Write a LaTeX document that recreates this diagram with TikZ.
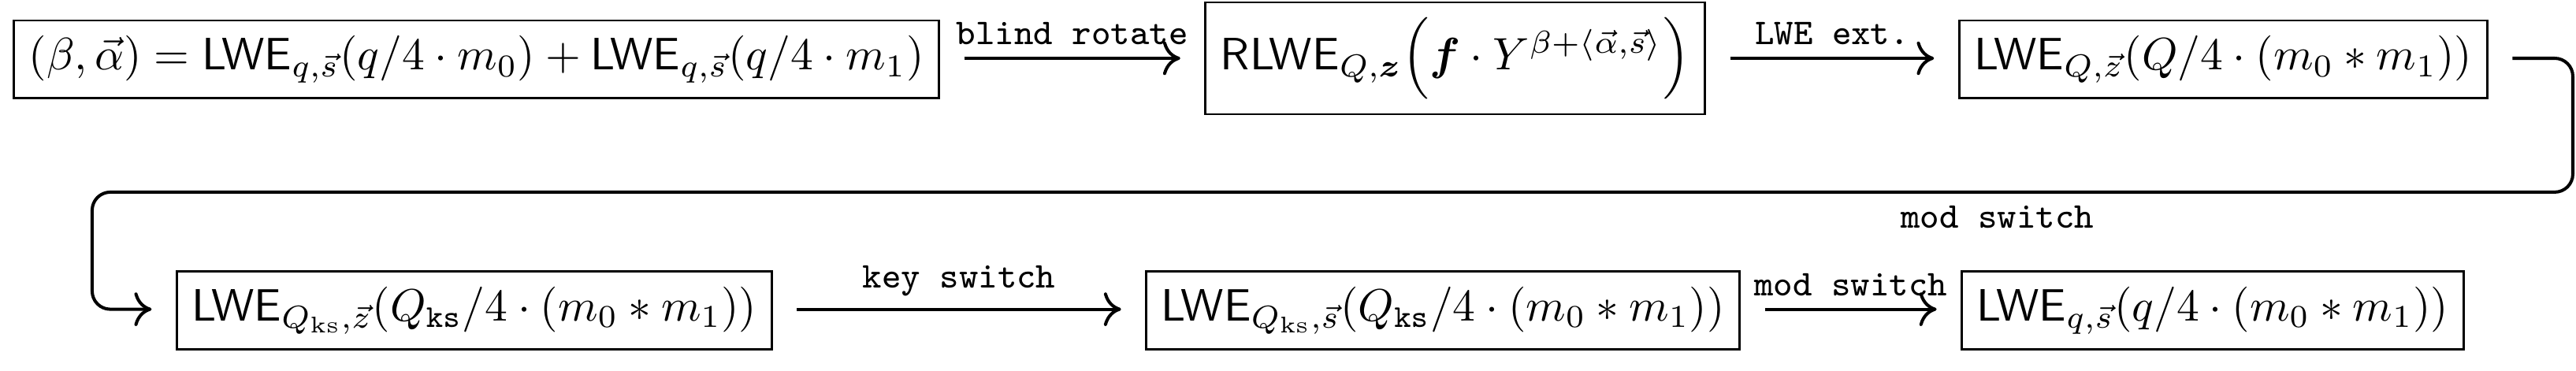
\documentclass[tikz,border=0pt]{standalone}
\usepackage{amsmath}
\usepackage{bm}
\usetikzlibrary{positioning, arrows.meta}

\begin{document}
\begin{tikzpicture}[x=1pt, y=1pt,
  box/.style={draw, line width=0.5pt},
  flow/.style={-{Computer Modern Rightarrow[length=3.8pt, width=7.4pt]}, line width=0.7pt, shorten <=5.3pt, shorten >=5.3pt},
  lbl/.style={font=\fontsize{8}{9}\selectfont\ttfamily, inner sep=2.6pt}]
\useasboundingbox (0, 0) rectangle (567.5, -81.77);

% first row
\node [box, anchor=base west] (lwein) at (2.8, -15.35) {$(\beta,\vec{\alpha}) = \mathsf{LWE}_{q,\vec{s}}(q/4\cdot m_0) + \mathsf{LWE}_{q,\vec{s}}(q/4\cdot m_1)$};
\node [box, base right=58.2pt of lwein] (rlwe) {$\mathsf{RLWE}_{Q,\bm{z}}\Big(\bm{f}\cdot Y^{\beta+\langle\vec{\alpha},\vec{s}\rangle}\Big)$};
\node [box, base right=55.5pt of rlwe] (lweq) {$\mathsf{LWE}_{Q,\vec{z}}(Q/4\cdot(m_0*m_1))$};

% second row
\node [box, anchor=base west] (lweks) at (38.7, -70.66) {$\mathsf{LWE}_{Q_{\mathrm{ks}},\vec{z}}(Q_{\mathtt{ks}}/4\cdot(m_0*m_1))$};
\node [box, base right=82pt of lweks] (lwesk) {$\mathsf{LWE}_{Q_{\mathrm{ks}},\vec{s}}(Q_{\mathtt{ks}}/4\cdot(m_0*m_1))$};
\node [box, base right=48.4pt of lwesk] (lweout) {$\mathsf{LWE}_{q,\vec{s}}(q/4\cdot(m_0*m_1))$};

\draw [flow] ([yshift=2.5pt]lwein.base east) -- node[lbl, above] {blind rotate} ([yshift=2.5pt]rlwe.base west);
\draw [flow] ([yshift=2.5pt]rlwe.base east) -- node[lbl, above] {LWE ext.} ([yshift=2.5pt]lweq.base west);

% wrap round to the second row
\coordinate (ne) at ([shift={(18.6pt,2.5pt)}]lweq.base east);
\coordinate (se) at ([yshift=-29.5pt]ne);
\coordinate (sw) at ([shift={(-18.4pt,2.5pt)}]lweks.base west);
\draw [flow, rounded corners] ([yshift=2.5pt]lweq.base east) -- (ne) -- (se) -- node[lbl, below, pos=0.232] {mod switch} (se -| sw) -- (sw) -- ([yshift=2.5pt]lweks.base west);

\draw [flow] ([yshift=2.5pt]lweks.base east) -- node[lbl, above] {key switch} ([yshift=2.5pt]lwesk.base west);
\draw [flow] ([yshift=2.5pt]lwesk.base east) -- node[lbl, above] {mod switch} ([yshift=2.5pt]lweout.base west);
\end{tikzpicture}
\end{document}
